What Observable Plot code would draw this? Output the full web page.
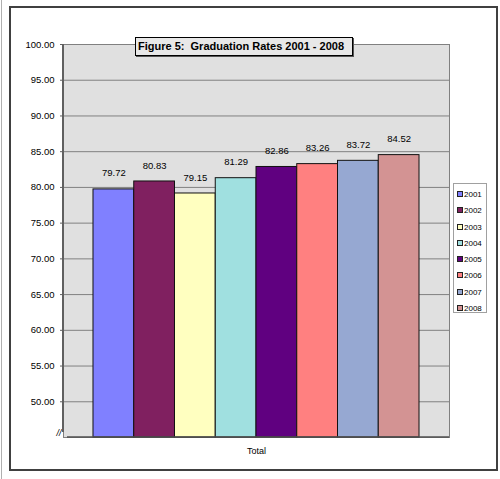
<!DOCTYPE html>
<html>
<head>
<meta charset="utf-8">
<script src="https://cdn.jsdelivr.net/npm/d3@7"></script>
<script src="https://cdn.jsdelivr.net/npm/@observablehq/plot@0.6"></script>
<style>
  body { margin: 0; background: #fff; }
  #wrap { position: relative; width: 500px; height: 479px; font-family: Arial, "Liberation Sans", sans-serif; }
  #wrap svg { position: absolute; left: 0; top: 0; }
  .edge { position: absolute; left: 1px; top: 0; width: 1px; height: 479px; background: #b0b0b0; }
  .outer { position: absolute; left: 9px; top: 6px; width: 489px; height: 465px; box-sizing: border-box; border: 2px solid #404040; }
  .title { position: absolute; left: 135px; top: 37px; width: 218px; height: 19px; box-sizing: border-box;
           background: #e8e8e8; border: 1px solid #000; box-shadow: 1px 1px 0 #555;
           font-weight: bold; font-size: 11px; line-height: 17px; padding-left: 2px; white-space: pre; }
  .legend { position: absolute; left: 453px; top: 183px; width: 34px; height: 130px; box-sizing: border-box;
            border: 1px solid #a0a0a0; background: #fff; padding-top: 3px; }
  .legend div { height: 16.3px; line-height: 16px; font-size: 8px; padding-left: 3px; white-space: nowrap; }
  .legend span { display: inline-block; width: 4px; height: 4px; border: 1px solid #222; margin-right: 1px; vertical-align: 0px; }
</style>
</head>
<body>
<div id="wrap">
  <div class="edge"></div>
  <div class="outer"></div>
</div>
<script>
// Graduation rates, one bar per year
const years = ["2001", "2002", "2003", "2004", "2005", "2006", "2007", "2008"];
const rates = [79.72, 80.83, 79.15, 81.29, 82.86, 83.26, 83.72, 84.52];
const colors = ["#8080ff", "#802060", "#ffffc0", "#a0e0e0", "#600080", "#ff8080", "#96a8d2", "#d39393"];
const yTicks = [50, 55, 60, 65, 70, 75, 80, 85, 90, 95, 100];
const baseline = 45; // axis is broken ("//") below 50

const rows = years.map((y, i) => ({year: y, value: rates[i]}));

const chart = Plot.plot({
  width: 500,
  height: 479,
  marginLeft: 63,
  marginRight: 51,
  marginTop: 44,
  marginBottom: 42,
  style: {fontFamily: "Arial, 'Liberation Sans', sans-serif", background: "transparent", color: "#000"},
  x: {domain: years, paddingInner: 0, paddingOuter: 0.736, round: false, axis: null},
  y: {domain: [baseline, 100], axis: null},
  color: {domain: years, range: colors},
  marks: [
    Plot.frame({fill: "#e0e0e0", stroke: "#808080"}),
    Plot.gridY(yTicks, {stroke: "#808080", strokeOpacity: 1}),
    Plot.axisY(yTicks, {tickFormat: ".2f", tickSize: 3, tickPadding: 6, fontSize: 9.5, stroke: "#606060", label: null}),
    Plot.barY(rows, {x: "year", y1: baseline, y2: "value", fill: "year", stroke: "#111", strokeWidth: 1}),
    Plot.text(rows, {x: "year", y: "value", text: d => d.value.toFixed(2), dy: -16, fontSize: 9.5}),
    Plot.text(["Total"], {frameAnchor: "bottom", dy: 16, fontSize: 9}),
    Plot.text(["//"], {frameAnchor: "bottom-left", dx: -7, dy: -2, fontSize: 9, fontStyle: "italic"})
  ]
});

// axis lines: left y line stops short of the break, bottom line starts after it
const sy = chart.scale("y");
const svg = d3.select(chart);
svg.append("line").attr("x1", 63).attr("x2", 63)
  .attr("y1", sy.apply(100)).attr("y2", sy.apply(baseline) - 5)
  .attr("stroke", "#606060").attr("stroke-width", 2);
svg.append("line").attr("x1", 67).attr("x2", 449)
  .attr("y1", sy.apply(baseline)).attr("y2", sy.apply(baseline))
  .attr("stroke", "#505050").attr("stroke-width", 1.5);

const wrap = d3.select("#wrap");
wrap.node().insertBefore(chart, wrap.node().firstChild);

wrap.append("div").attr("class", "title").text("Figure 5:  Graduation Rates 2001 - 2008");

const legend = wrap.append("div").attr("class", "legend");
years.forEach((y, i) => {
  const row = legend.append("div");
  row.append("span").style("background", colors[i]);
  row.append("text").text(y);
});
</script>
</body>
</html>
